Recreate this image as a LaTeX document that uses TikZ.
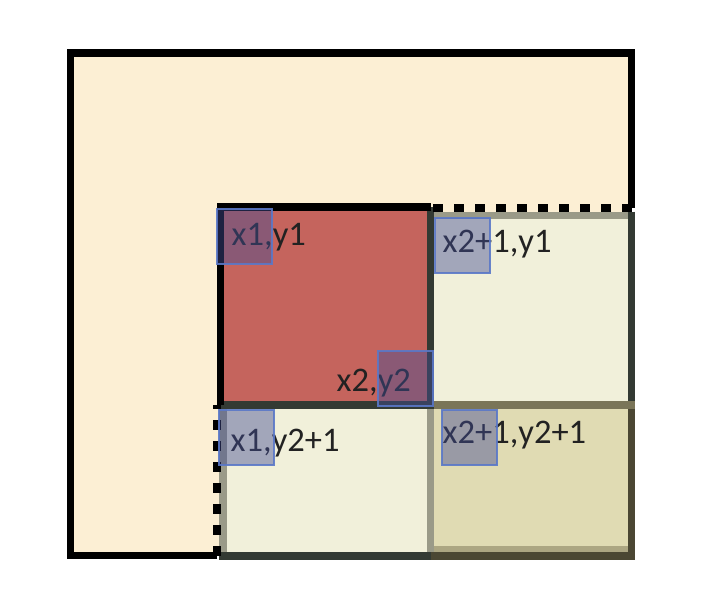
\documentclass[tikz,border=0pt]{standalone}
\usepackage{fontspec}
\setmainfont{Carlito}
\definecolor{beige}{HTML}{FCEFD4}
\definecolor{redcell}{HTML}{C5645D}
\definecolor{lightcell}{HTML}{F1F0DA}
\definecolor{olivecell}{HTML}{E0DBB3}
\definecolor{darkedge}{HTML}{333A33}
\definecolor{grayedge}{HTML}{9A9A88}
\definecolor{oliveedge}{HTML}{7A7558}
\definecolor{deepolive}{HTML}{4B4733}
\definecolor{oliveband}{HTML}{ACA682}
\definecolor{boxfill}{HTML}{434D94}
\definecolor{boxedge}{HTML}{5A78C8}
\definecolor{txt}{HTML}{222222}
\tikzset{
  edge/.style={line width=7.5pt},
  outline/.style={line width=7.4pt, black, miter limit=10},
  dashedge/.style={line width=7.6pt, black, dash pattern=on 10pt off 11pt},
  lbl/.style={anchor=base west, inner sep=0pt, text=txt, font=\fontsize{34.5}{36}\selectfont},
  mark box/.style={draw=boxedge, line width=2pt, fill=boxfill, fill opacity=0.45, draw opacity=0.9,
    minimum width=55pt, minimum height=55pt, inner sep=0pt, anchor=center}
}
\begin{document}
\begin{tikzpicture}[x=1pt, y=-1pt]
\useasboundingbox (0,0) rectangle (706,598);
\fill[white] (0,0) rectangle (706,598);
% region
\fill[beige] (70.5,53) rectangle (631.5,555.5);
% cell fills
\fill[redcell] (220,207) rectangle (430.5,405);
\fill[lightcell] (430.5,211.7) rectangle (631.5,405);
\fill[lightcell] (219,405) rectangle (430.5,556);
\fill[olivecell] (430.5,405) rectangle (631.5,556);
\fill[oliveband] (434,546) rectangle (627.7,552.7);
% cell borders
\draw[edge, grayedge] (426.7,215.3) -- (635.3,215.3);
\draw[edge, grayedge] (222.8,401) -- (222.8,560);
\draw[edge, grayedge] (430.5,405) -- (430.5,560);
\draw[edge, darkedge] (219,556) -- (434,556);
\draw[edge, deepolive] (430.5,556) -- (635.3,556);
\draw[edge, deepolive] (631.5,405) -- (631.5,560);
\draw[edge, oliveedge] (434.3,405) -- (635.3,405);
\draw[edge, darkedge] (631.5,211.7) -- (631.5,401.3);
\draw[edge, darkedge] (430.5,207) -- (430.5,401.3);
\draw[edge, darkedge] (219,405) -- (434.3,405);
% outer outline
\draw[outline] (217,555.5) -- (70.5,555.5) -- (70.5,53) -- (631.5,53) -- (631.5,208);
\draw[dashedge] (631.5,208) -- (431,208);
\draw[dashedge] (217,555.5) -- (217,405);
\draw[outline, line width=7.6pt] (220.3,405) -- (220.3,206.7) -- (431,206.7);
% labels
\node[lbl] (t11) at (231.5,245) {x1,y1};
\node[lbl] (t22) at (336.5,391.7) {x2,y2};
\node[lbl] (t21) at (442.5,252.7) {x2+1,y1};
\node[lbl] (t12) at (230.5,451) {x1,y2+1};
\node[lbl] (t2121) at (442.5,443.3) {x2+1,y2+1};
% marker boxes
\node[mark box] (b11) at (244.5,236.5) {};
\node[mark box] (b22) at (405.8,378) {};
\node[mark box] (b21) at (462,245) {};
\node[mark box] (b12) at (246.8,437.5) {};
\node[mark box] (b2121) at (469.5,437.5) {};
\end{tikzpicture}
\end{document}
